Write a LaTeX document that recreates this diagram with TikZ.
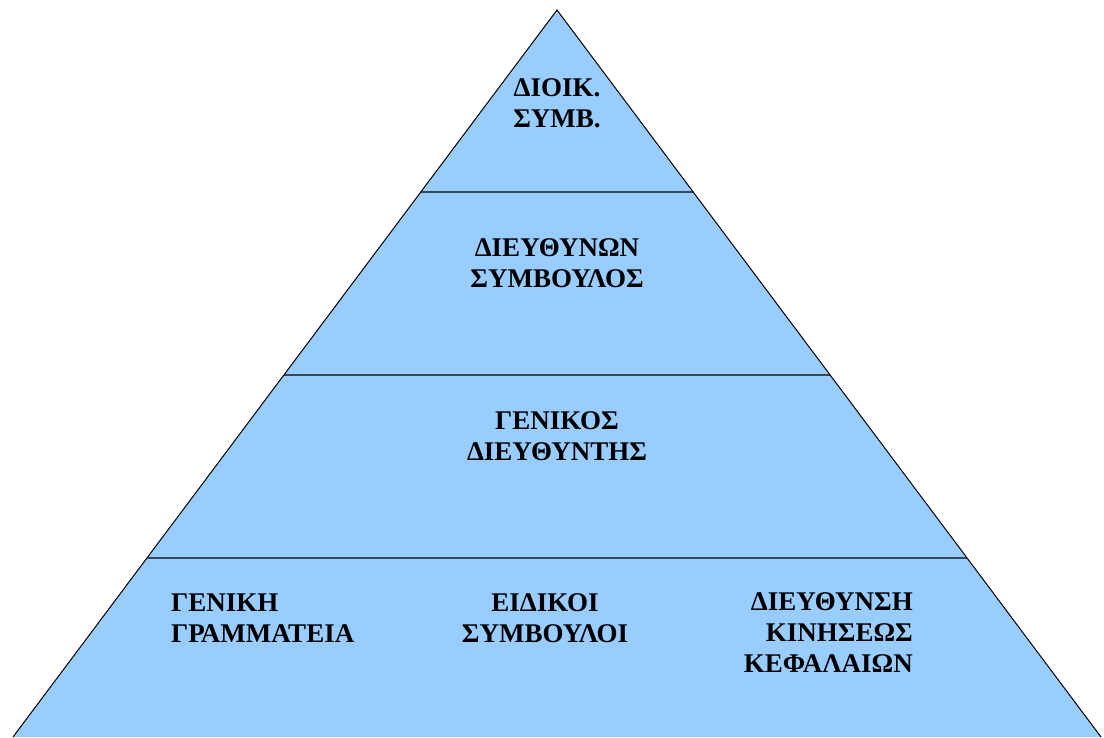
\documentclass[tikz,border=0pt]{standalone}
\usepackage{fontspec}
\setmainfont{Liberation Serif}
\usetikzlibrary{calc}

\definecolor{levelblue}{HTML}{99CCFF}
\definecolor{levelline}{HTML}{34495A}

\tikzset{
	lbl/.style={font=\fontsize{27}{31}\selectfont\bfseries, inner sep=0pt},
	divider/.style={draw=levelline, line width=2.2pt}
}

\begin{document}
\begin{tikzpicture}[x=1pt, y=-1pt]
	\useasboundingbox (0,0) rectangle (1104,737);
	
	%pyramid corners
	\coordinate (top) at (557,10);
	\coordinate (bl) at (13,737);
	\coordinate (br) at (1101,737);
	\fill[levelblue] (top) -- (bl) -- (br) -- cycle;
	
	%level borders
	\coordinate (l1) at ($(top)!0.2503!(bl)$);
	\coordinate (r1) at ($(top)!0.2503!(br)$);
	\coordinate (l2) at ($(top)!0.5021!(bl)$);
	\coordinate (r2) at ($(top)!0.5021!(br)$);
	\coordinate (l3) at ($(top)!0.7538!(bl)$);
	\coordinate (r3) at ($(top)!0.7538!(br)$);
	\draw[divider] (l1) -- (r1);
	\draw[divider] (l2) -- (r2);
	\draw[divider] (l3) -- (r3);
	\draw[line width=1pt] (bl) -- (top) -- (br);
	
	%top level
	\node[lbl, align=center] (dsymv) at (557,103){ΔΙΟΙΚ.\\ΣΥΜΒ.};
	
	%second level
	\node[lbl, align=center] (dsymvoulos) at (557,263){ΔΙΕΥΘΥΝΩΝ\\ΣΥΜΒΟΥΛΟΣ};
	
	%third level
	\node[lbl, align=center] (gdieft) at (557,436){ΓΕΝΙΚΟΣ\\ΔΙΕΥΘΥΝΤΗΣ};
	
	%bottom level
	\node[lbl, align=left, anchor=west] (gramm) at (171,618){ΓΕΝΙΚΗ\\ΓΡΑΜΜΑΤΕΙΑ};
	\node[lbl, align=center] (eidikoi) at (545,618){ΕΙΔΙΚΟΙ\\ΣΥΜΒΟΥΛΟΙ};
	\node[lbl, align=right, anchor=east] (kefal) at (913,633){ΔΙΕΥΘΥΝΣΗ\\ΚΙΝΗΣΕΩΣ\\ΚΕΦΑΛΑΙΩΝ};
	
\end{tikzpicture}
\end{document}
